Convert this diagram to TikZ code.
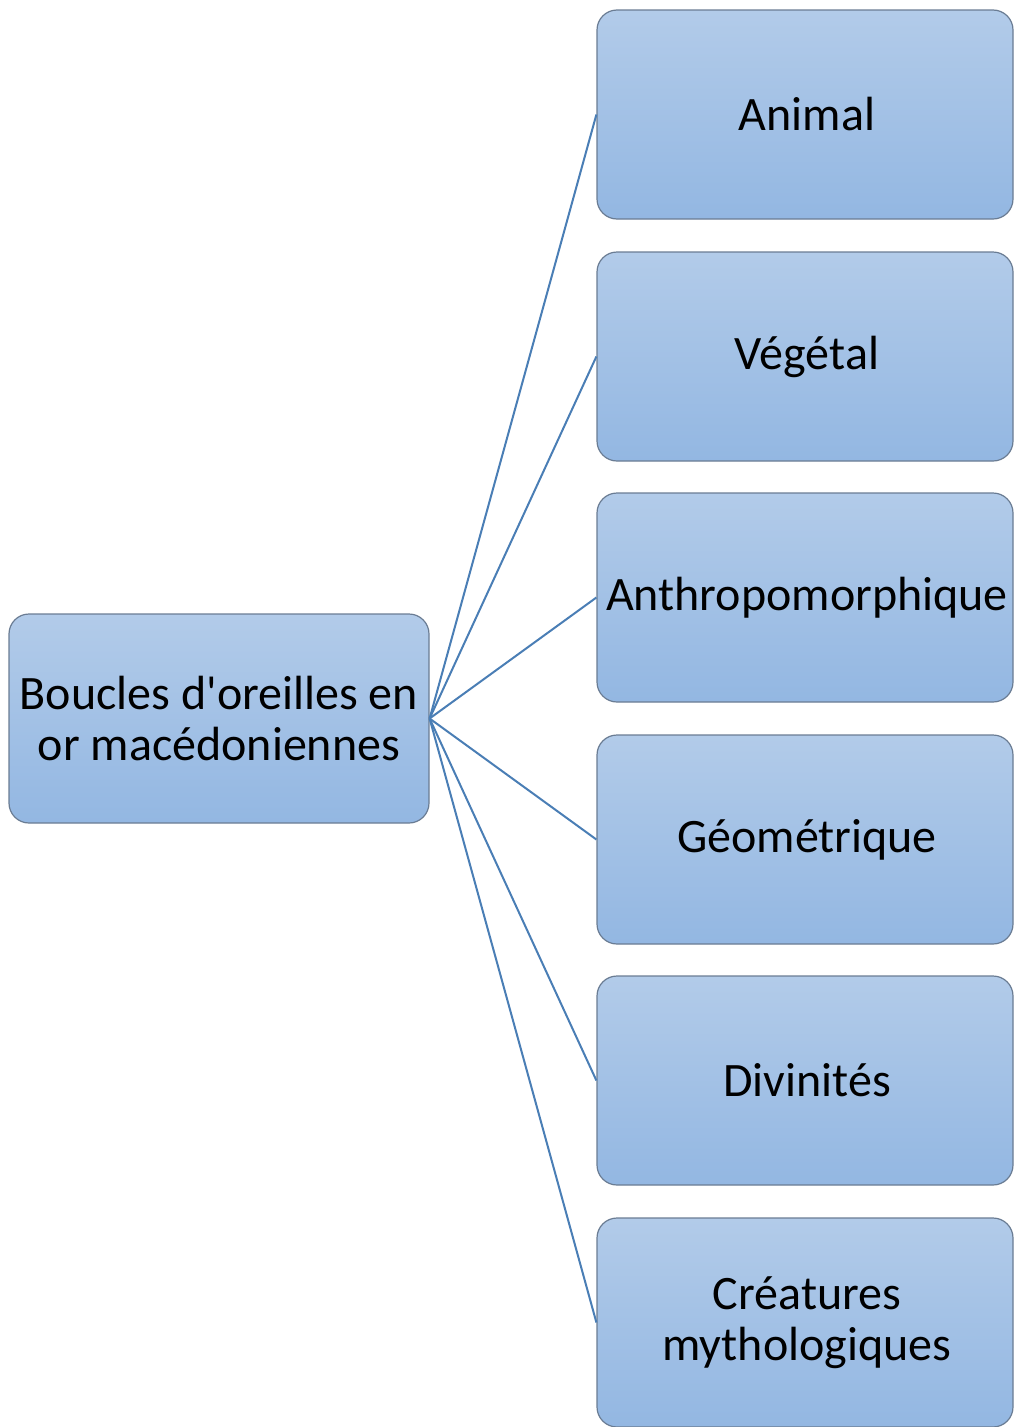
\documentclass[tikz,border=0pt]{standalone}
\usepackage{fontspec}
\setmainfont{Carlito}[Ligatures=TeXOff]
\definecolor{boxtop}{HTML}{B2CBE9}
\definecolor{boxbot}{HTML}{93B7E2}
\definecolor{boxline}{HTML}{6A7C93}
\definecolor{linkline}{HTML}{4A7EB5}
\tikzset{
  catbox/.style={rounded corners=20pt, draw=boxline, line width=1.2pt,
    top color=boxtop, bottom color=boxbot, minimum width=416pt,
    minimum height=209pt, align=center, inner sep=0pt,
    font=\fontsize{48}{51}\selectfont},
  rootbox/.style={catbox, minimum width=420pt},
  link/.style={draw=linkline, line width=2pt}
}
\begin{document}
\begin{tikzpicture}[x=1pt,y=-1pt]
\useasboundingbox (0,0) rectangle (1013,1427);
\node[rootbox] (root) at (219,718.5) {Boucles d'oreilles en\\or macédoniennes};
\node[catbox] (c1) at (805,114.5) {\hspace*{4pt}Animal};
\node[catbox] (c2) at (805,356.5) {\hspace*{4pt}Végétal};
\node[catbox] (c3) at (805,597.5) {\hspace*{4pt}Anthropomorphique};
\node[catbox] (c4) at (805,839.5) {\hspace*{4pt}Géométrique};
\node[catbox] (c5) at (805,1080.5) {\hspace*{4pt}Divinités};
\node[catbox] (c6) at (805,1322.5) {\hspace*{4pt}Créatures\\\hspace*{4pt}mythologiques};
\foreach \c in {c1,c2,c3,c4,c5,c6}
  \draw[link] (root.east) -- (\c.west);
\end{tikzpicture}
\end{document}
